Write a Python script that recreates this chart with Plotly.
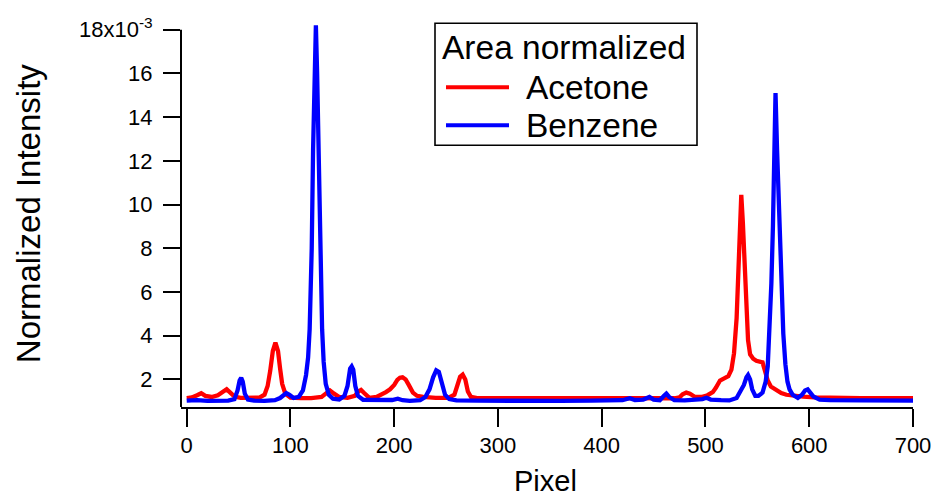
import plotly.graph_objects as go

# Acetone spectrum (area normalized), intensity in units of 1e-3
acetone_x = [0, 5, 10, 14, 18, 24, 30, 35, 38.5, 42, 46, 52, 60, 70, 75, 78, 80.5, 83, 85.5, 88,
             90, 92, 95, 100, 110, 120, 130, 134, 138, 142, 147, 155, 162, 165.5, 168, 171, 176,
             183, 188, 192, 196, 200, 203, 205.5, 208, 211, 214, 218, 222, 228, 240, 252, 258,
             261, 263.5, 266, 268.5, 271, 274, 280, 300, 330, 360, 390, 420, 450, 470, 475, 478,
             481.5, 485, 490, 496, 502, 507, 510, 514, 518, 522, 525, 527.5, 530, 532, 533.5,
             534.5, 536, 537.5, 539, 541, 543, 546, 549, 552, 555, 557, 560, 563, 568, 573, 578,
             585, 594, 605, 620, 650, 700]
acetone_y = [1.15, 1.18, 1.28, 1.37, 1.25, 1.2, 1.28, 1.42, 1.55, 1.4, 1.22, 1.16, 1.15, 1.17,
             1.3, 1.7, 2.4, 3.3, 3.68, 3.3, 2.5, 1.8, 1.35, 1.17, 1.15, 1.15, 1.2, 1.38, 1.5, 1.35,
             1.2, 1.16, 1.25, 1.45, 1.52, 1.38, 1.16, 1.2, 1.3, 1.42, 1.55, 1.75, 1.98, 2.08, 2.1,
             2.0, 1.75, 1.4, 1.25, 1.2, 1.16, 1.16, 1.3, 1.7, 2.12, 2.22, 2.0, 1.45, 1.2, 1.15,
             1.14, 1.15, 1.14, 1.15, 1.14, 1.15, 1.14, 1.18, 1.32, 1.4, 1.35, 1.2, 1.2, 1.28, 1.42,
             1.62, 1.95, 2.05, 2.15, 2.45, 3.2, 4.8, 7.0, 9.5, 10.45, 9.2, 7.6, 5.8, 3.8, 3.15,
             2.95, 2.85, 2.8, 2.78, 2.45, 1.95, 1.68, 1.5, 1.38, 1.3, 1.25, 1.21, 1.18, 1.16,
             1.15, 1.15]

# Benzene spectrum (area normalized)
benzene_x = [0, 10, 20, 30, 40, 46, 49, 51, 52.5, 54, 56, 59, 65, 75, 85, 90, 93, 96, 99, 103,
             108, 112, 115, 117, 118.5, 120.5, 121.8, 123.3, 124.5, 125.7, 127.2, 128.5, 130.5,
             132, 134, 137, 141, 147, 152, 155, 157.5, 159, 160.5, 162.5, 165, 170, 180, 190,
             198, 203.5, 208, 215, 225, 230, 234, 237.5, 240.5, 243, 246, 249, 253, 260, 280,
             300, 330, 360, 390, 410, 420, 427, 432, 440, 446, 450, 456, 460, 462.3, 465, 470,
             480, 490, 497, 501, 505, 515, 523, 530, 534, 537, 539.5, 541, 543, 545, 548, 551,
             555, 558, 560, 562, 563.5, 565, 566, 567.5, 569, 570.5, 572, 573.5, 575, 577, 579,
             581, 584, 589, 593, 596, 598.5, 601, 604, 610, 620, 650, 680, 700]
benzene_y = [1.03, 1.05, 1.02, 1.04, 1.03, 1.1, 1.5, 1.95, 2.08, 1.9, 1.35, 1.08, 1.03, 1.02,
             1.05, 1.15, 1.3, 1.38, 1.3, 1.15, 1.2, 1.5, 2.2, 3.0, 4.3, 8.0, 12.5, 16.0, 18.2,
             16.0, 12.5, 8.0, 4.3, 2.8, 1.8, 1.3, 1.12, 1.08, 1.25, 1.7, 2.5, 2.6, 2.45, 1.7,
             1.25, 1.07, 1.05, 1.04, 1.06, 1.12, 1.05, 1.02, 1.05, 1.2, 1.55, 2.1, 2.42, 2.35,
             1.8, 1.3, 1.1, 1.04, 1.03, 1.02, 1.03, 1.02, 1.03, 1.02, 1.05, 1.14, 1.06, 1.08,
             1.2, 1.08, 1.05, 1.25, 1.35, 1.2, 1.05, 1.04, 1.06, 1.1, 1.16, 1.08, 1.05, 1.04,
             1.15, 1.45, 1.75, 2.1, 2.2, 2.0, 1.55, 1.25, 1.25, 1.4, 1.9, 2.6, 4.3, 6.4, 9.0,
             11.0, 15.1, 12.5, 10.0, 7.8, 5.8, 4.1, 2.7, 1.9, 1.55, 1.3, 1.16, 1.3, 1.5, 1.55,
             1.4, 1.22, 1.08, 1.05, 1.04, 1.03, 1.03]

x_ticks = [0, 100, 200, 300, 400, 500, 600, 700]
y_ticks = [2, 4, 6, 8, 10, 12, 14, 16, 18]
y_tick_text = ["2", "4", "6", "8", "10", "12", "14", "16", "18x10<sup>-3</sup>"]

series_names = ["Acetone", "Benzene"]
series_colors = ["#ff0000", "#0000ff"]
legend_title = "Area normalized"
x_title = "Pixel"
y_title = "Normalized Intensity"

W, H = 937, 499
L, R, T, B = 181, 24, 20.7, 92
Y_MIN, Y_MAX, Y_AXIS_TOP = 0.74, 18.4, 18

FONT = "Liberation Sans, Arial, sans-serif"


def px_x(p):
    return (p - L) / (W - L - R)


def px_y(p):
    return (H - B - p) / (H - T - B)


fig = go.Figure()
for name, xs, ys, color in zip(series_names, [acetone_x, benzene_x],
                               [acetone_y, benzene_y], series_colors):
    fig.add_trace(go.Scatter(x=xs, y=ys, mode="lines", name=name,
                             line=dict(color=color, width=4.3),
                             showlegend=False))

# left axis line only spans up to the last tick
fig.add_shape(type="line", xref="paper", yref="y", x0=0, x1=0, y0=Y_MIN, y1=Y_AXIS_TOP,
              line=dict(color="black", width=2))

# hand-built legend box
fig.add_shape(type="rect", xref="paper", yref="paper",
              x0=px_x(435), x1=px_x(697), y0=px_y(145), y1=px_y(23),
              line=dict(color="black", width=1.6), fillcolor="white", layer="above")
fig.add_annotation(xref="paper", yref="paper", x=px_x(440), y=px_y(47),
                   text=legend_title, showarrow=False, xanchor="left", yanchor="middle",
                   font=dict(family=FONT, size=33.5, color="black"))
for i, (name, color) in enumerate(zip(series_names, series_colors)):
    yc = [87, 125][i]
    fig.add_shape(type="line", xref="paper", yref="paper",
                  x0=px_x(446), x1=px_x(509), y0=px_y(yc), y1=px_y(yc),
                  line=dict(color=color, width=4), layer="above")
    fig.add_annotation(xref="paper", yref="paper", x=px_x(524), y=px_y(yc),
                       text=name, showarrow=False, xanchor="left", yanchor="middle",
                       font=dict(family=FONT, size=33.5, color="black"))

# axis titles
fig.add_annotation(xref="paper", yref="paper", x=px_x(545), y=px_y(498.5),
                   text=x_title, showarrow=False, xanchor="center", yanchor="bottom",
                   borderpad=0, font=dict(family=FONT, size=29, color="black"))
fig.add_annotation(xref="paper", yref="paper", x=px_x(28), y=px_y(214),
                   text=y_title, showarrow=False, xanchor="center", yanchor="middle",
                   textangle=-90, font=dict(family=FONT, size=33, color="black"))

fig.update_layout(
    width=W, height=H,
    margin=dict(l=L, r=R, t=T, b=B, pad=0, autoexpand=False),
    plot_bgcolor="white", paper_bgcolor="white",
    font=dict(family=FONT, color="black"),
    showlegend=False,
)
fig.update_xaxes(
    range=[-5.5, 700], tickvals=x_ticks, ticks="outside", ticklen=18, tickwidth=2,
    tickcolor="black", showline=True, linecolor="black", linewidth=2,
    showgrid=False, zeroline=False, tickfont=dict(size=22), ticklabelstandoff=0,
    automargin=False,
)
fig.update_yaxes(
    range=[Y_MIN, Y_MAX], tickvals=y_ticks, ticktext=y_tick_text, ticks="outside",
    ticklen=17, tickwidth=2, tickcolor="black", showline=False,
    showgrid=False, zeroline=False, tickfont=dict(size=22), ticklabelstandoff=6,
    automargin=False,
)

fig.write_html("out.html")
